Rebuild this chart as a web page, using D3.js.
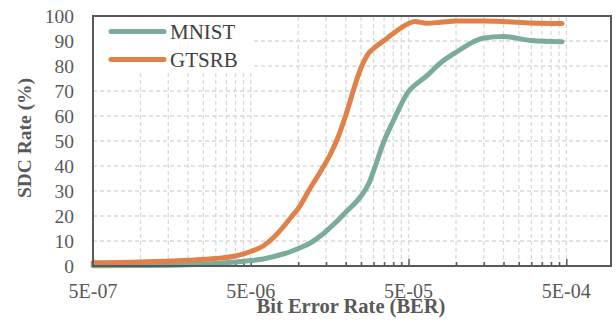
<!DOCTYPE html>
<html>
<head>
<meta charset="utf-8">
<script src="https://cdn.jsdelivr.net/npm/d3@7"></script>
<style>
  body { margin: 0; background: #fff; }
  svg { display: block; }
</style>
</head>
<body>
<div id="chart"></div>
<script>
// bit error rates (x) and SDC rate in percent for each model
var ber = [5e-7, 1e-6, 2e-6, 3e-6, 4e-6, 5e-6, 6e-6, 7e-6, 8e-6, 9e-6, 1e-5, 1.2e-5, 1.4e-5, 1.6e-5, 1.8e-5, 2e-5,
  2.5e-5, 2.8e-5, 3e-5, 3.5e-5, 4e-5, 5e-5, 5.5e-5, 6.5e-5, 8e-5, 1e-4, 1.5e-4, 2e-4, 3e-4, 4.7e-4];
var mnist = [0.1, 0.2, 0.5, 1.0, 1.6, 2.2, 2.8, 3.8, 4.8, 5.8, 7, 9.3, 12.3, 15.5, 18.5, 21.5,
  28, 33, 38, 50, 58, 69.8, 72.4, 76, 81.3, 85.5, 91.2, 91.8, 90.2, 89.7];
var gtsrb = [1.3, 1.6, 2.3, 3.0, 4.0, 5.8, 8, 11.5, 15.5, 19.5, 23, 31.5, 38.3, 44.8, 52, 60.3,
  79.3, 85.2, 87, 90.2, 93, 97, 97.8, 97.1, 97.5, 98, 98, 97.8, 97.2, 97];
var seriesNames = ["MNIST", "GTSRB"];
var seriesColors = ["#7aab9b", "#e0814a"];
var xMajor = [5e-7, 5e-6, 5e-5, 5e-4];
var xLabels = ["5E-07", "5E-06", "5E-05", "5E-04"];
var yTicks = [0, 10, 20, 30, 40, 50, 60, 70, 80, 90, 100];

var width = 616, height = 328;
var serif = "Liberation Serif, Tinos, Times New Roman, serif";
// plot area edges (window.top is taken, so no plain "top")
var plotL = 93, plotR = 611, plotT = 16, plotB = 266;

var svg = d3.select("#chart").append("svg")
  .attr("width", width)
  .attr("height", height);

var x = d3.scaleLog().domain([5e-7, 9.6e-4]).range([plotL, plotR]);
var y = d3.scaleLinear().domain([0, 100]).range([plotB, plotT]);

// minor values: 2..9 times each major value (excel style)
var xMinor = [];
xMajor.forEach(function(m) {
  for (var k = 2; k <= 9; k++) {
    if (m * k < x.domain()[1]) xMinor.push(m * k);
  }
});

var grid = svg.append("g").attr("class", "grid")
  .attr("stroke", "#d9d9d9")
  .attr("stroke-width", 1.3)
  .attr("stroke-dasharray", "4,3");

grid.selectAll(".vx")
  .data(xMajor.slice(1).concat(xMinor))
  .enter().append("line")
    .attr("x1", function(d) { return x(d); })
    .attr("x2", function(d) { return x(d); })
    .attr("y1", plotB)
    .attr("y2", plotT);

grid.selectAll(".hy")
  .data(yTicks.slice(1, -1))
  .enter().append("line")
    .attr("x1", plotL)
    .attr("x2", plotR)
    .attr("y1", function(d) { return y(d); })
    .attr("y2", function(d) { return y(d); });

// white legend box hides the grid behind it
svg.append("rect")
  .attr("x", plotL + 1)
  .attr("y", plotT + 1)
  .attr("width", 159)
  .attr("height", 56)
  .attr("fill", "#fff");

// x axis: inward tick marks only, labels are drawn below as plain texts
var xAxis = svg.append("g")
  .attr("transform", "translate(0," + plotB + ")")
  .call(d3.axisBottom(x).tickValues(xMajor).tickSize(-7).tickFormat(""));

var xMinorAxis = svg.append("g")
  .attr("transform", "translate(0," + plotB + ")")
  .call(d3.axisBottom(x).tickValues(xMinor).tickSize(-4).tickFormat(""));

[xAxis, xMinorAxis].forEach(function(g) {
  g.select(".domain").remove();
  g.selectAll(".tick text").remove();
  g.selectAll(".tick line").attr("stroke", "#595959").attr("stroke-width", 1.5);
});

svg.selectAll(".xlabel")
  .data(xMajor)
  .enter().append("text")
    .attr("class", "xlabel")
    .attr("x", function(d) { return x(d); })
    .attr("y", 298)
    .attr("text-anchor", "middle")
    .style("font-family", serif)
    .style("font-size", "20px")
    .attr("fill", "#595959")
    .text(function(d, i) { return xLabels[i]; });

svg.selectAll(".ylabel")
  .data(yTicks)
  .enter().append("text")
    .attr("class", "ylabel")
    .attr("x", 74)
    .attr("y", function(d) { return y(d) + 6.5; })
    .attr("text-anchor", "end")
    .style("font-family", serif)
    .style("font-size", "19.5px")
    .attr("fill", "#595959")
    .text(function(d) { return d; });

// lines
var data = [mnist, gtsrb];
var line = d3.line()
  .x(function(d, i) { return x(ber[i]); })
  .y(function(d) { return y(d); })
  .curve(d3.curveMonotoneX);

svg.selectAll(".series")
  .data(data)
  .enter().append("path")
    .attr("class", "series")
    .attr("d", line)
    .attr("fill", "none")
    .attr("stroke", function(d, i) { return seriesColors[i]; })
    .attr("stroke-width", 5)
    .attr("stroke-linecap", "round")
    .attr("stroke-linejoin", "round");

// plot frame
svg.append("rect")
  .attr("x", plotL)
  .attr("y", plotT)
  .attr("width", plotR - plotL)
  .attr("height", plotB - plotT)
  .attr("fill", "none")
  .attr("stroke", "#595959")
  .attr("stroke-width", 2);

// legend
svg.selectAll(".legline")
  .data(seriesNames)
  .enter().append("line")
    .attr("class", "legline")
    .attr("x1", 111).attr("x2", 164)
    .attr("y1", function(d, i) { return 31.5 + i * 28; })
    .attr("y2", function(d, i) { return 31.5 + i * 28; })
    .attr("stroke", function(d, i) { return seriesColors[i]; })
    .attr("stroke-width", 5)
    .attr("stroke-linecap", "round");

svg.selectAll(".legtext")
  .data(seriesNames)
  .enter().append("text")
    .attr("class", "legtext")
    .attr("x", 170)
    .attr("y", function(d, i) { return 39 + i * 28; })
    .style("font-family", serif)
    .style("font-size", "21px")
    .attr("fill", "#404040")
    .text(function(d) { return d; });

// axis titles
svg.append("text")
  .attr("x", 351)
  .attr("y", 313)
  .attr("text-anchor", "middle")
  .style("font-family", serif)
  .style("font-size", "20.5px")
  .style("font-weight", "bold")
  .attr("fill", "#595959")
  .text("Bit Error Rate (BER)");

svg.append("text")
  .attr("transform", "translate(31,138) rotate(-90)")
  .attr("text-anchor", "middle")
  .style("font-family", serif)
  .style("font-size", "19.5px")
  .style("font-weight", "bold")
  .attr("fill", "#595959")
  .text("SDC Rate (%)");
</script>
</body>
</html>
